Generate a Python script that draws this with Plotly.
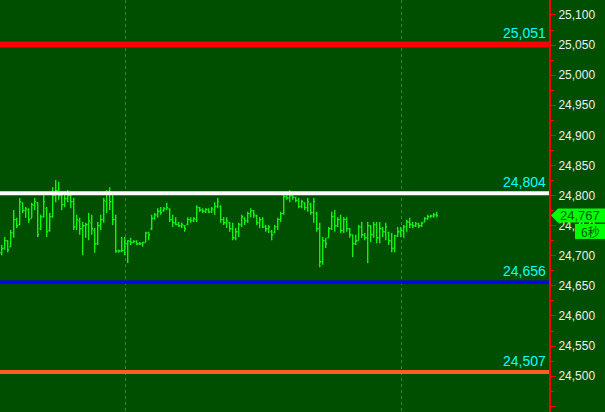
import plotly.graph_objects as go

# ---------------- data ----------------
bar_index = list(range(146))
high = [24718, 24731, 24726, 24743, 24776, 24763, 24796, 24788, 24781, 24779,
        24788, 24796, 24789, 24768, 24801, 24781, 24771, 24814, 24826, 24823,
        24804, 24801, 24809, 24801, 24796, 24768, 24763, 24756, 24755, 24771,
        24768, 24746, 24756, 24768, 24796, 24809, 24814, 24801, 24768, 24710,
        24731, 24731, 24726, 24730, 24726, 24726, 24723, 24723, 24740, 24740,
        24768, 24771, 24779, 24781, 24781, 24788, 24779, 24768, 24764, 24756,
        24755, 24751, 24764, 24764, 24764, 24784, 24781, 24779, 24779, 24779,
        24781, 24789, 24796, 24784, 24764, 24764, 24756, 24755, 24746, 24755,
        24768, 24764, 24773, 24779, 24776, 24768, 24764, 24764, 24751, 24751,
        24743, 24751, 24763, 24773, 24801, 24801, 24809, 24801, 24798, 24796,
        24793, 24789, 24796, 24788, 24796, 24773, 24755, 24731, 24730, 24748,
        24773, 24776, 24764, 24768, 24764, 24764, 24746, 24735, 24735, 24751,
        24756, 24738, 24756, 24751, 24756, 24756, 24756, 24748, 24755, 24740,
        24738, 24735, 24748, 24748, 24751, 24760, 24763, 24756, 24756, 24755,
        24756, 24764, 24768, 24768, 24771, 24773]
low = [24701, 24710, 24706, 24715, 24730, 24746, 24751, 24771, 24763, 24755,
       24763, 24776, 24731, 24743, 24763, 24731, 24740, 24763, 24789, 24793,
       24776, 24781, 24789, 24779, 24743, 24743, 24735, 24701, 24730, 24726,
       24735, 24705, 24718, 24743, 24755, 24771, 24776, 24751, 24705, 24705,
       24706, 24701, 24688, 24718, 24721, 24718, 24718, 24715, 24723, 24726,
       24743, 24760, 24763, 24768, 24773, 24776, 24756, 24748, 24751, 24748,
       24746, 24740, 24751, 24755, 24756, 24756, 24773, 24771, 24771, 24771,
       24771, 24768, 24779, 24755, 24751, 24746, 24740, 24726, 24726, 24731,
       24748, 24751, 24755, 24764, 24763, 24751, 24746, 24746, 24740, 24738,
       24726, 24738, 24743, 24756, 24768, 24793, 24789, 24793, 24789, 24779,
       24779, 24776, 24773, 24768, 24755, 24740, 24681, 24685, 24713, 24730,
       24743, 24740, 24748, 24738, 24738, 24740, 24730, 24698, 24718, 24726,
       24730, 24726, 24688, 24723, 24730, 24721, 24721, 24731, 24726, 24718,
       24706, 24706, 24731, 24731, 24730, 24740, 24746, 24746, 24748, 24746,
       24748, 24756, 24760, 24763, 24763, 24764]
open_ = [24705, 24712, 24725, 24715, 24738, 24760, 24752, 24788, 24775, 24776,
         24762, 24784, 24788, 24745, 24765, 24778, 24742, 24765, 24800, 24808,
         24800, 24785, 24795, 24800, 24790, 24748, 24758, 24745, 24750, 24752,
         24755, 24742, 24720, 24750, 24760, 24790, 24805, 24790, 24760, 24708,
         24708, 24709, 24720, 24724, 24722, 24724, 24720, 24720, 24722, 24738,
         24745, 24762, 24768, 24774, 24775, 24778, 24778, 24760, 24755, 24752,
         24750, 24750, 24752, 24760, 24758, 24760, 24780, 24776, 24774, 24777,
         24773, 24776, 24782, 24782, 24760, 24755, 24755, 24745, 24730, 24740,
         24752, 24762, 24758, 24770, 24775, 24766, 24755, 24760, 24748, 24745,
         24740, 24738, 24748, 24760, 24770, 24798, 24796, 24800, 24797, 24792,
         24782, 24788, 24780, 24786, 24772, 24770, 24745, 24690, 24725, 24730,
         24745, 24765, 24750, 24760, 24742, 24760, 24745, 24735, 24720, 24725,
         24748, 24735, 24730, 24750, 24735, 24752, 24730, 24745, 24740, 24738,
         24725, 24712, 24733, 24740, 24742, 24748, 24756, 24752, 24750, 24753,
         24750, 24756, 24762, 24765, 24766, 24768]
close = [24712, 24725, 24710, 24738, 24760, 24750, 24790, 24775, 24778, 24760,
         24785, 24790, 24735, 24765, 24790, 24740, 24765, 24800, 24808, 24800,
         24785, 24795, 24800, 24790, 24748, 24760, 24745, 24750, 24752, 24758,
         24745, 24720, 24750, 24760, 24792, 24805, 24790, 24760, 24708, 24708,
         24709, 24720, 24725, 24722, 24724, 24720, 24720, 24722, 24738, 24735,
         24762, 24768, 24774, 24772, 24778, 24780, 24760, 24755, 24752, 24750,
         24752, 24745, 24760, 24758, 24762, 24780, 24776, 24774, 24777, 24773,
         24778, 24782, 24790, 24760, 24755, 24758, 24745, 24730, 24740, 24752,
         24765, 24758, 24770, 24775, 24768, 24755, 24760, 24748, 24745, 24748,
         24735, 24748, 24760, 24770, 24798, 24796, 24800, 24797, 24792, 24782,
         24790, 24780, 24790, 24772, 24790, 24745, 24690, 24725, 24720, 24745,
         24765, 24750, 24760, 24742, 24760, 24745, 24735, 24720, 24725, 24748,
         24735, 24730, 24750, 24735, 24752, 24730, 24745, 24740, 24748, 24725,
         24712, 24733, 24740, 24742, 24748, 24756, 24752, 24750, 24753, 24750,
         24754, 24762, 24765, 24766, 24768, 24767]

level_values = [25051, 24804, 24656, 24507]
level_colors = ["#ff0000", "#ffffff", "#0000ff", "#ff6020"]
level_widths = [6, 4, 3.5, 4]
session_breaks = [41.2, 133.2]
y_ticks = list(range(24450, 25101, 50))
timer_text = "6秒"

# ---------------- layout constants ----------------
W, H = 605, 412
plot_w = 549
y_min, y_max = 24440.5, 25124.9
x_min, x_max = -0.567, 182.43
units_per_px = (y_max - y_min) / H
bg = "#004f00"
bar_color = "#14f014"
font_family = "Liberation Sans, Arial, sans-serif"

fig = go.Figure()
fig.add_trace(go.Ohlc(
    x=bar_index, open=open_, high=high, low=low, close=close,
    increasing=dict(line=dict(color=bar_color, width=1.4)),
    decreasing=dict(line=dict(color=bar_color, width=1.4)),
    tickwidth=0.45, hoverinfo="skip", showlegend=False,
))

shapes = []
annotations = []
for v, c, w in zip(level_values, level_colors, level_widths):
    shapes.append(dict(type="line", xref="paper", yref="y", x0=0, x1=1, y0=v, y1=v,
                       line=dict(color=c, width=w), layer="above"))
    annotations.append(dict(xref="paper", yref="y", x=1, y=v, xanchor="right",
                            yanchor="bottom", xshift=-1, yshift=1, showarrow=False,
                            text=f"{v:,}", font=dict(family=font_family, size=14, color="#00ffff")))

# last price tag
last = close[-1]
px = lambda p: p / plot_w
half = 7 * units_per_px
shapes.append(dict(type="path", xref="paper", yref="y", layer="above",
                   path=(f"M {px(551)} {last} L {px(558)} {last + half} L {px(606)} {last + half} "
                         f"L {px(606)} {last - half} L {px(558)} {last - half} Z"),
                   fillcolor="#00ff00", line=dict(width=0)))
annotations.append(dict(xref="paper", yref="y", x=px(558), y=last, xanchor="left", yanchor="middle",
                        showarrow=False, text=f"{last:,}",
                        font=dict(family=font_family, size=13, color="#005a00")))
t_c = last - 16 * units_per_px
t_h = 7.5 * units_per_px
shapes.append(dict(type="rect", xref="paper", yref="y", layer="above",
                   x0=px(575), x1=px(606), y0=t_c - t_h, y1=t_c + t_h,
                   fillcolor="#00ff00", line=dict(width=0)))
annotations.append(dict(xref="paper", yref="y", x=px(590), y=t_c, xanchor="center", yanchor="middle",
                        showarrow=False, text=timer_text,
                        font=dict(family="Noto Sans CJK SC, sans-serif", size=12, color="#005a00")))

fig.update_layout(
    width=W, height=H,
    margin=dict(l=0, r=W - plot_w, t=0, b=0),
    paper_bgcolor=bg, plot_bgcolor=bg,
    shapes=shapes, annotations=annotations,
    showlegend=False,
    xaxis=dict(range=[x_min, x_max], rangeslider=dict(visible=False),
               tickvals=session_breaks, showticklabels=False, ticks="",
               showgrid=True, gridcolor="#2f8a2f", griddash="dot", gridwidth=1,
               zeroline=False, showline=False, fixedrange=True),
    yaxis=dict(range=[y_min, y_max], side="right", tickvals=y_ticks,
               tickformat=",d", showgrid=False, zeroline=False,
               showline=True, linecolor="#ff0000", linewidth=2,
               ticks="outside", ticklen=5, tickcolor="#ff0000", tickwidth=1,
               minor=dict(dtick=25, tick0=24450, ticks="outside", ticklen=3,
                          tickcolor="#ff0000", tickwidth=1, showgrid=False),
               tickfont=dict(family=font_family, size=12, color="#f0f0f0"),
               fixedrange=True),
    font=dict(family=font_family),
)

fig.write_html(
    "out.html",
    config={"displayModeBar": False},
    post_script="document.body.style.margin='0';document.body.style.background='#004f00';",
)
